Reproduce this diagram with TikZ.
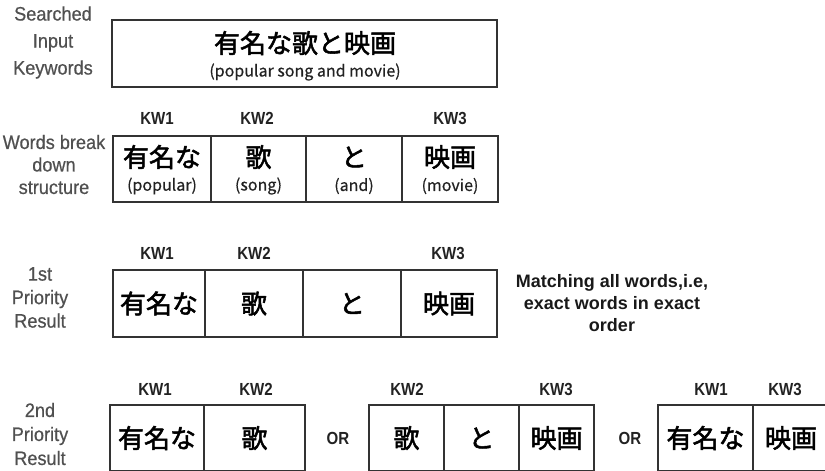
\documentclass[tikz,border=0pt]{standalone}
\usepackage{fontspec}
\setmainfont{Liberation Sans}
\newfontfamily\jpfam[FakeBold=2]{Noto Sans CJK JP}
\newfontfamily\jpsubfam[FakeBold=0.5]{Noto Sans CJK JP}
\newfontfamily\narrowfam[FakeStretch=0.86]{Liberation Sans}
\newfontfamily\labfam[FakeStretch=0.93,FakeBold=0.6]{Liberation Sans}
\definecolor{linegray}{HTML}{333333}
\definecolor{labcol}{HTML}{505050}
\definecolor{kwcol}{HTML}{222222}
\newcommand\jpbig{\jpfam\fontsize{26}{30}\selectfont}
\newcommand\jpsub{\jpsubfam\fontsize{16}{18}\selectfont}
\newcommand\kwfont{\narrowfam\bfseries\fontsize{17.5}{19}\selectfont}
\newcommand\matchfont{\bfseries\fontsize{18}{22}\selectfont}
\tikzset{
  cellbox/.style={draw=linegray, line width=1.3pt, inner sep=0pt, outer sep=0pt, font=\jpbig},
  kw/.style={font=\kwfont, text=kwcol, inner sep=0pt},
  orlab/.style={font=\kwfont, text=kwcol, inner sep=0pt},
  subtxt/.style={font=\jpsub, text=kwcol, inner sep=0pt},
  bigtxt/.style={font=\jpbig, inner sep=0pt},
  rowlab/.style={align=center, text=labcol, inner sep=0pt},
}
\begin{document}
\begin{tikzpicture}[x=1pt,y=-1pt]
\useasboundingbox (0,0) rectangle (825,471);
% row labels
\node[rowlab, font=\labfam\fontsize{19.5}{27}\selectfont] (r1) at (53,42.5) {Searched\\Input\\Keywords};
\node[rowlab, font=\labfam\fontsize{19.5}{22.5}\selectfont] (r2) at (54,164.5) {Words break\\down\\structure};
\node[rowlab, font=\labfam\fontsize{19.5}{23.5}\selectfont] (r3) at (40,297.5) {1st\\Priority\\Result};
\node[rowlab, font=\labfam\fontsize{19.5}{24}\selectfont] (r4) at (40,434) {2nd\\Priority\\Result};

% top box
\node[cellbox, minimum width=385pt, minimum height=67pt] (top) at (304.5,53.5) {};
\node[bigtxt] (topjp) at (305,43) {有名な歌と映画};
\node[subtxt] (topen) at (305,72) {(popular song and movie)};

% row 2
\node[kw] (k21) at (157,118) {KW1};
\node[kw] (k22) at (257,118) {KW2};
\node[kw] (k23) at (450,118) {KW3};
\node[cellbox, minimum width=98pt, minimum height=66pt] (c21) at (162,169) {};
\node[cellbox, minimum width=95pt, minimum height=66pt] (c22) at (258.5,169) {};
\node[cellbox, minimum width=96pt, minimum height=66pt] (c23) at (354,169) {};
\node[cellbox, minimum width=96pt, minimum height=66pt] (c24) at (450,169) {};
\node[bigtxt] (t21) at (162,157) {有名な};
\node[bigtxt] (t22) at (258.5,157) {歌};
\node[bigtxt] (t23) at (354,157) {と};
\node[bigtxt] (t24) at (450,157) {映画};
\node[subtxt] (s21) at (162,186) {(popular)};
\node[subtxt] (s22) at (258.5,186) {(song)};
\node[subtxt] (s23) at (354,186) {(and)};
\node[subtxt] (s24) at (450,186) {(movie)};

% row 3
\node[kw] (k31) at (157,253) {KW1};
\node[kw] (k32) at (254,253) {KW2};
\node[kw] (k33) at (448,253) {KW3};
\node[cellbox, minimum width=92pt, minimum height=67pt] (c31) at (159,303.5) {有名な};
\node[cellbox, minimum width=98pt, minimum height=67pt] (c32) at (254,303.5) {歌};
\node[cellbox, minimum width=98pt, minimum height=67pt] (c33) at (352,303.5) {と};
\node[cellbox, minimum width=96pt, minimum height=67pt] (c34) at (449,303.5) {映画};
\node[align=center, font=\matchfont, text=black!90, inner sep=0pt] (match) at (612,303) {Matching all words,i.e,\\exact words in exact\\order};

% row 4
\node[kw] (k41) at (155,389) {KW1};
\node[kw] (k42) at (256,389) {KW2};
\node[kw] (k43) at (407,389) {KW2};
\node[kw] (k44) at (556,389) {KW3};
\node[kw] (k45) at (711,389) {KW1};
\node[kw] (k46) at (785,389) {KW3};
\node[cellbox, minimum width=94pt, minimum height=66pt] (c41) at (157,438) {有名な};
\node[cellbox, minimum width=101pt, minimum height=66pt] (c42) at (254.5,438) {歌};
\node[orlab] (or1) at (338,438) {OR};
\node[cellbox, minimum width=75pt, minimum height=66pt] (c43) at (406.5,438) {歌};
\node[cellbox, minimum width=75pt, minimum height=66pt] (c44) at (481.5,438) {と};
\node[cellbox, minimum width=75pt, minimum height=66pt] (c45) at (556.5,438) {映画};
\node[orlab] (or2) at (630,438) {OR};
\node[cellbox, minimum width=95pt, minimum height=66pt] (c46) at (705.5,438) {有名な};
\node[cellbox, minimum width=76pt, minimum height=66pt] (c47) at (791,438) {映画};
\end{tikzpicture}
\end{document}
